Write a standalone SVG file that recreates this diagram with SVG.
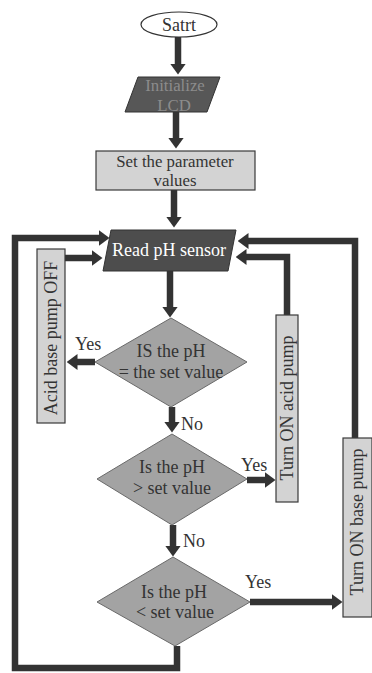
<svg xmlns="http://www.w3.org/2000/svg" width="372" height="673" viewBox="0 0 372 673">
<style>
text{font-family:"Liberation Serif","Times New Roman",serif;font-size:18px;fill:#333;}
.c{text-anchor:middle;}
.two{font-size:16.8px;}
.box{fill:#d3d3d3;stroke:#3a3a3a;stroke-width:1.2;}
.dia{fill:#a3a3a3;stroke:#6a6a6a;stroke-width:1;}
.dark{fill:#575757;stroke:#333;stroke-width:1;}
.ln{fill:none;stroke:#333;stroke-width:6.5;}
</style>
<defs>
<marker id="ah" markerUnits="userSpaceOnUse" viewBox="0 0 11 16" markerWidth="11" markerHeight="16" refX="0.5" refY="8" orient="auto">
<path d="M0,0 L11,8 L0,16 Z" fill="#333"/>
</marker>
</defs>
<rect width="372" height="673" fill="#fff"/>
<g id="connectors">
<line class="ln" x1="178" y1="37" x2="178" y2="64" marker-end="url(#ah)"/>
<line class="ln" x1="176" y1="112" x2="176" y2="138" marker-end="url(#ah)"/>
<line class="ln" x1="174" y1="190" x2="174" y2="217" marker-end="url(#ah)"/>
<line class="ln" x1="170" y1="271" x2="170" y2="307" marker-end="url(#ah)"/>
<line class="ln" x1="95" y1="362" x2="77" y2="362" marker-end="url(#ah)"/>
<line class="ln" x1="172" y1="407" x2="172" y2="422" marker-end="url(#ah)"/>
<line class="ln" x1="247" y1="480" x2="265" y2="480" marker-end="url(#ah)"/>
<line class="ln" x1="173" y1="525" x2="173" y2="546" marker-end="url(#ah)"/>
<line class="ln" x1="250" y1="602" x2="332" y2="602" marker-end="url(#ah)"/>
<polyline class="ln" points="177,646 177,668 15,668 15,238 99,238" marker-end="url(#ah)"/>
<line class="ln" x1="65" y1="258" x2="92" y2="258" marker-end="url(#ah)"/>
<polyline class="ln" points="287,315 287,257 246,257" marker-end="url(#ah)"/>
<polyline class="ln" points="355,438 355,241 248,241" marker-end="url(#ah)"/>
</g>
<g id="start">
<ellipse cx="179" cy="24.5" rx="38" ry="12.5" fill="#fff" stroke="#333" stroke-width="1.2"/>
<text class="c" x="179" y="30.5">Satrt</text>
</g>
<g id="init">
<polygon class="dark" points="138,77 220,77 207,112 125,112"/>
<text class="c two" x="175" y="91" style="fill:#8c8c8c">Initialize</text>
<text class="c two" x="174" y="110.5" style="fill:#8c8c8c">LCD</text>
</g>
<g id="setparam">
<rect class="box" x="96" y="151" width="159" height="39"/>
<text class="c two" x="175" y="166.5">Set the parameter</text>
<text class="c two" x="175" y="186">values</text>
</g>
<g id="readph">
<polygon points="111,230 236,230 228,271 103,271" fill="#4d4d4d" stroke="#333" stroke-width="1"/>
<text class="c" x="169" y="256" style="fill:#fff">Read pH sensor</text>
</g>
<g id="d1">
<polygon class="dia" points="171,318 247,362 171,407 95,362"/>
<text class="c" x="171" y="357">IS the pH</text>
<text class="c" x="171" y="378">= the set value</text>
</g>
<g id="acidoff">
<rect class="box" x="37" y="249" width="28" height="174"/>
<text class="c" transform="translate(57,338) rotate(-90)">Acid base pump OFF</text>
</g>
<g id="d2">
<polygon class="dia" points="172,434 247,479 172,525 97,479"/>
<text class="c" x="172" y="473">Is the pH</text>
<text class="c" x="172" y="494">&gt; set value</text>
</g>
<g id="acidon">
<rect class="box" x="276" y="315" width="22" height="187"/>
<text class="c" transform="translate(293,408) rotate(-90)">Turn ON acid pump</text>
</g>
<g id="d3">
<polygon class="dia" points="173,557 250,602 175,646 97,602"/>
<text class="c" x="174" y="598">Is the pH</text>
<text class="c" x="175" y="618">&lt; set value</text>
</g>
<g id="baseon">
<rect class="box" x="343" y="438" width="29" height="179"/>
<text class="c" transform="translate(363,522) rotate(-90)">Turn ON base pump</text>
</g>
<g id="labels">
<text x="75" y="350">Yes</text>
<text x="181" y="430">No</text>
<text x="241" y="471">Yes</text>
<text x="183" y="547">No</text>
<text x="245" y="588">Yes</text>
</g>
</svg>
